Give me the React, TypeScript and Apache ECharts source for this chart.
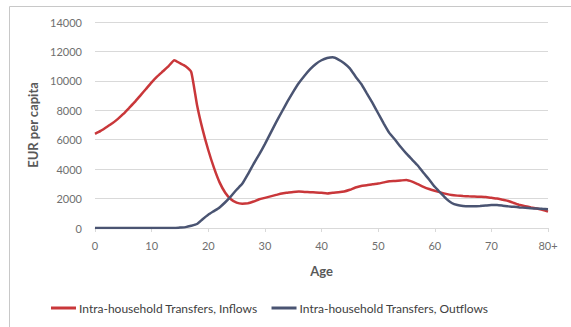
import React, { useEffect, useRef } from "react";
import * as echarts from "echarts";

// Age in single years; the last point stands for 80 and over
const ages: number[] = Array.from({ length: 81 }, (_, i) => i);

const inflows: number[] = [
  6400, 6600, 6850, 7100, 7400, 7750, 8150, 8550, 9000, 9450,
  9900, 10300, 10650, 11000, 11400, 11200, 11000, 10600, 8400, 6700,
  5300, 4100, 3100, 2400, 1950, 1720, 1650, 1680, 1800, 1950,
  2050, 2150, 2250, 2350, 2400, 2450, 2480, 2450, 2430, 2420,
  2400, 2350, 2400, 2430, 2480, 2600, 2750, 2850, 2900, 2970,
  3020, 3100, 3180, 3200, 3230, 3260, 3150, 2980, 2800, 2650,
  2530, 2420, 2320, 2240, 2200, 2170, 2150, 2140, 2120, 2100,
  2050, 2000, 1920, 1840, 1700, 1560, 1480, 1400, 1320, 1230,
  1110,
];

const outflows: number[] = [
  0, 0, 0, 0, 0, 0, 0, 0, 0, 0,
  0, 0, 0, 0, 0, 30, 60, 150, 270, 600,
  900, 1150, 1400, 1750, 2150, 2600, 3000, 3650, 4350, 5000,
  5700, 6450, 7200, 7900, 8600, 9250, 9850, 10350, 10800, 11150,
  11400, 11550, 11600, 11450, 11200, 10850, 10300, 9800, 9150, 8500,
  7800, 7100, 6450, 6000, 5500, 5050, 4650, 4250, 3750, 3300,
  2800, 2400, 2000, 1700, 1560, 1500, 1480, 1480, 1500, 1530,
  1560, 1560, 1520, 1470, 1440, 1400, 1370, 1340, 1320, 1300,
  1270,
];

const seriesNames: string[] = [
  "Intra-household Transfers, Inflows",
  "Intra-household Transfers, Outflows",
];

const xTickLabels: Record<number, string> = {
  0: "0", 10: "10", 20: "20", 30: "30", 40: "40",
  50: "50", 60: "60", 70: "70", 80: "80+",
};

const FONT = "Lato, 'Open Sans', sans-serif";

export default function App() {
  const ref = useRef<HTMLDivElement>(null);

  useEffect(() => {
    if (!ref.current) return;
    const chart = echarts.init(ref.current, undefined, { renderer: "svg" });
    chart.setOption({
      animation: false,
      backgroundColor: "#ffffff",
      textStyle: { fontFamily: FONT },
      graphic: [
        {
          type: "rect",
          shape: { x: 9.5, y: 6.5, width: 700, height: 500 },
          style: { fill: "none", stroke: "#c8c8c8", lineWidth: 1 },
          silent: true,
        },
      ],
      grid: {
        left: 95,
        right: 23,
        top: 22,
        bottom: 99,
        outerBoundsMode: "none",
      },
      legend: {
        bottom: 8,
        left: 46,
        icon: "rect",
        itemWidth: 25,
        itemHeight: 3,
        itemGap: 14,
        textStyle: { fontSize: 12, color: "#404040", fontFamily: FONT, padding: [0, 0, 0, -2] },
        data: seriesNames,
      },
      xAxis: {
        type: "value",
        min: 0,
        max: 80,
        interval: 10,
        name: "Age",
        nameLocation: "middle",
        nameGap: 36,
        nameTextStyle: { fontSize: 13, fontWeight: "bold", color: "#595959", fontFamily: FONT },
        axisLine: { show: true, lineStyle: { color: "#d9d9d9" } },
        axisTick: { show: true, length: 4, lineStyle: { color: "#d9d9d9" } },
        splitLine: { show: false },
        axisLabel: {
          fontSize: 11,
          color: "#6f6f6f",
          margin: 12,
          formatter: (v: number) => xTickLabels[v] ?? "",
        },
      },
      yAxis: {
        type: "value",
        min: 0,
        max: 14000,
        interval: 2000,
        name: "EUR per capita",
        nameLocation: "middle",
        nameGap: 41,
        nameTextStyle: { fontSize: 13, fontWeight: "bold", color: "#595959", fontFamily: FONT },
        axisLine: { show: false },
        axisTick: { show: false },
        splitLine: { lineStyle: { color: "#d9d9d9" } },
        axisLabel: {
          fontSize: 11,
          color: "#6f6f6f",
          margin: 13,
          formatter: (v: number) => String(v),
        },
      },
      series: [
        {
          name: seriesNames[0],
          type: "line",
          data: ages.map((a, i) => [a, inflows[i]]),
          showSymbol: false,
          smooth: 0.15,
          lineStyle: { color: "#c9373a", width: 2.5 },
          itemStyle: { color: "#c9373a" },
        },
        {
          name: seriesNames[1],
          type: "line",
          data: ages.map((a, i) => [a, outflows[i]]),
          showSymbol: false,
          smooth: 0.15,
          lineStyle: { color: "#4a5472", width: 2.5 },
          itemStyle: { color: "#4a5472" },
        },
      ],
    });
    return () => chart.dispose();
  }, []);

  return (
    <div
      ref={ref}
      style={{ position: "fixed", left: 0, top: 0, width: 571, height: 327 }}
    />
  );
}
